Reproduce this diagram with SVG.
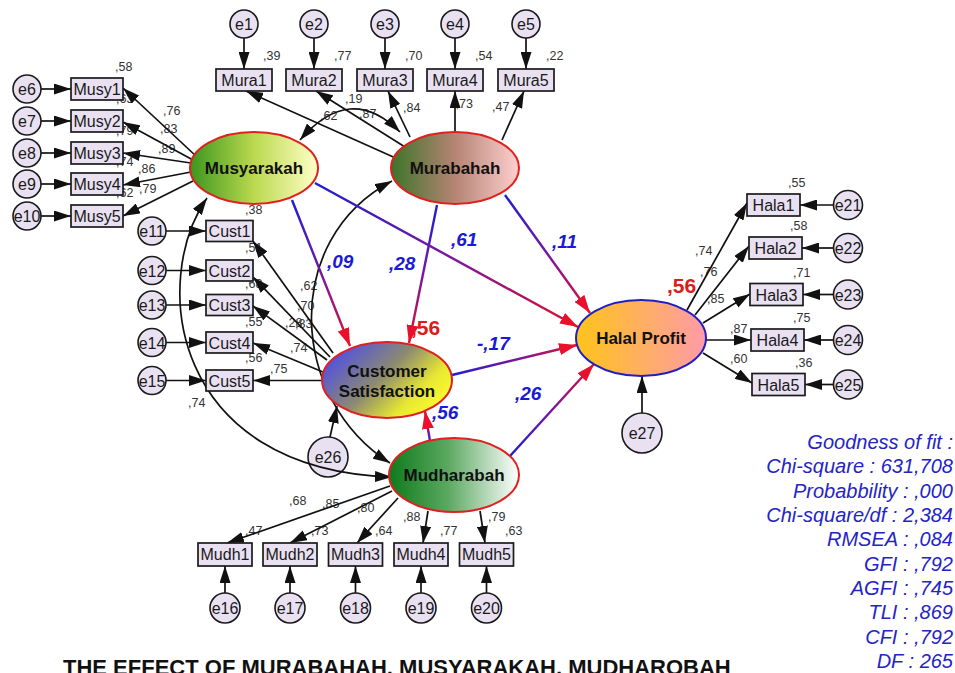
<svg xmlns="http://www.w3.org/2000/svg" width="955" height="673" viewBox="0 0 955 673">
<defs>
<style>
.box{fill:#e9e1f2;stroke:#1a1a1a;stroke-width:1.7}
.err{fill:#e9e1f2;stroke:#1a1a1a;stroke-width:1.6}
.lbl{font-family:"Liberation Sans",Arial,sans-serif;font-size:16px;fill:#1a1a1a;text-anchor:middle}
.num{font-family:"Liberation Sans",Arial,sans-serif;font-size:12.5px;fill:#333}
.lat{font-family:"Liberation Sans",Arial,sans-serif;font-weight:bold;font-size:17px;fill:#111;text-anchor:middle}
.ell{stroke:#e02020;stroke-width:2}
.ld{stroke:#111;stroke-width:1.7;fill:none;marker-end:url(#ah)}
.cv{stroke:#111;stroke-width:1.7;fill:none;marker-end:url(#ah);marker-start:url(#ah)}
.sp{stroke-width:2.4;fill:none;marker-end:url(#rh)}
.coef{font-family:"Liberation Sans",Arial,sans-serif;font-style:italic;font-weight:bold;font-size:19px;fill:#1a1ad6}
.red{font-family:"Liberation Sans",Arial,sans-serif;font-weight:bold;font-size:21px;fill:#e01a1a}
.gof{font-family:"Liberation Sans",Arial,sans-serif;font-style:italic;font-size:20px;fill:#2424c4;text-anchor:end}
.title{font-family:"Liberation Sans",Arial,sans-serif;font-weight:bold;font-size:22px;fill:#111}
</style>
<marker id="ah" markerUnits="userSpaceOnUse" markerWidth="17" markerHeight="11" refX="17" refY="5.5" orient="auto-start-reverse"><path d="M0,0 L17,5.5 L0,11 z" fill="#111"/></marker>
<marker id="rh" markerUnits="userSpaceOnUse" markerWidth="18" markerHeight="12" refX="18" refY="6" orient="auto"><path d="M0,0 L18,6 L0,12 z" fill="#e8102a"/></marker>
<linearGradient id="gMusy" x1="0" y1="0" x2="1" y2="0"><stop offset="0" stop-color="#3a961e"/><stop offset="0.5" stop-color="#bbd94e"/><stop offset="1" stop-color="#ffffc8"/></linearGradient>
<linearGradient id="gMura" x1="0" y1="0" x2="1" y2="0"><stop offset="0" stop-color="#3c7428"/><stop offset="0.5" stop-color="#b58474"/><stop offset="1" stop-color="#ffcfcf"/></linearGradient>
<linearGradient id="gCS" x1="0" y1="0.2" x2="1" y2="0.8"><stop offset="0" stop-color="#4a4af0"/><stop offset="0.45" stop-color="#8c8a70"/><stop offset="0.75" stop-color="#e8e832"/><stop offset="1" stop-color="#ffff30"/></linearGradient>
<linearGradient id="gMudh" x1="0" y1="0" x2="1" y2="0"><stop offset="0" stop-color="#0f7a1c"/><stop offset="0.45" stop-color="#5aa860"/><stop offset="1" stop-color="#ffffff"/></linearGradient>
<linearGradient id="gHal" x1="0" y1="0" x2="1" y2="0"><stop offset="0" stop-color="#ffc41a"/><stop offset="1" stop-color="#ff9aa8"/></linearGradient>
<linearGradient id="s1" gradientUnits="userSpaceOnUse" x1="292" y1="200" x2="350" y2="346"><stop offset="0" stop-color="#1e1ed2"/><stop offset="0.55" stop-color="#80169a"/><stop offset="1" stop-color="#e0102c"/></linearGradient>
<linearGradient id="s2" gradientUnits="userSpaceOnUse" x1="437" y1="205" x2="409" y2="343"><stop offset="0" stop-color="#1e1ed2"/><stop offset="0.55" stop-color="#80169a"/><stop offset="1" stop-color="#e0102c"/></linearGradient>
<linearGradient id="s3" gradientUnits="userSpaceOnUse" x1="315" y1="183" x2="578" y2="327"><stop offset="0" stop-color="#1e1ed2"/><stop offset="0.55" stop-color="#80169a"/><stop offset="1" stop-color="#e0102c"/></linearGradient>
<linearGradient id="s4" gradientUnits="userSpaceOnUse" x1="505" y1="195" x2="590" y2="313"><stop offset="0" stop-color="#1e1ed2"/><stop offset="0.55" stop-color="#80169a"/><stop offset="1" stop-color="#e0102c"/></linearGradient>
<linearGradient id="s5" gradientUnits="userSpaceOnUse" x1="452" y1="375" x2="577" y2="345"><stop offset="0" stop-color="#1e1ed2"/><stop offset="0.55" stop-color="#80169a"/><stop offset="1" stop-color="#e0102c"/></linearGradient>
<linearGradient id="s6" gradientUnits="userSpaceOnUse" x1="510" y1="456" x2="594" y2="364"><stop offset="0" stop-color="#1e1ed2"/><stop offset="0.55" stop-color="#80169a"/><stop offset="1" stop-color="#e0102c"/></linearGradient>
<linearGradient id="s7" gradientUnits="userSpaceOnUse" x1="430" y1="441" x2="425" y2="411"><stop offset="0" stop-color="#4a1ad2"/><stop offset="1" stop-color="#e0102c"/></linearGradient>
</defs>
<rect width="955" height="673" fill="#ffffff"/>

<g id="labels">
<g class="num">
<text x="115" y="71">,58</text><text x="116" y="103">,63</text><text x="116" y="135">,79</text><text x="116" y="166">,74</text><text x="116" y="197">,62</text>
<text x="163" y="115">,76</text><text x="160" y="133">,83</text><text x="158" y="153">,89</text><text x="138" y="173">,86</text><text x="139" y="193">,79</text>
<text x="263" y="60">,39</text><text x="334" y="60">,77</text><text x="405" y="60">,70</text><text x="475" y="60">,54</text><text x="546" y="60">,22</text>
<text x="320" y="120">,62</text><text x="359" y="118">,87</text><text x="403" y="112">,84</text><text x="455.5" y="108">,73</text><text x="492" y="111">,47</text><text x="345" y="103">,19</text>
<text x="245" y="214">,38</text><text x="245" y="252">,51</text><text x="245" y="288">,68</text><text x="245" y="326">,55</text><text x="245" y="362">,56</text>
<text x="300" y="290">,62</text><text x="297" y="310">,70</text><text x="285" y="327">,28</text><text x="295" y="328">,83</text><text x="290" y="352">,74</text><text x="270" y="373">,75</text>
<text x="188" y="407">,74</text>
<text x="289" y="505">,68</text><text x="322" y="508">,85</text><text x="357" y="512">,80</text><text x="403" y="521">,88</text><text x="488" y="521">,79</text>
<text x="245" y="535">,47</text><text x="311" y="535">,73</text><text x="375" y="535">,64</text><text x="440" y="535">,77</text><text x="505" y="535">,63</text>
<text x="788" y="187">,55</text><text x="790" y="230">,58</text><text x="793" y="277">,71</text><text x="793" y="322">,75</text><text x="795" y="367">,36</text>
<text x="695" y="255">,74</text><text x="700" y="276">,76</text><text x="707" y="303">,85</text><text x="730" y="333">,87</text><text x="730" y="363">,60</text>
</g>
<text class="red" x="667" y="293">,56</text>
<text class="red" x="411" y="335">,56</text>
<text class="coef" x="327" y="268">,09</text>
<text class="coef" x="389" y="270">,28</text>
<text class="coef" x="451" y="246">,61</text>
<text class="coef" x="552" y="248">,11</text>
<text class="coef" x="477" y="350">-,17</text>
<text class="coef" x="515" y="400">,26</text>
<text class="coef" x="432" y="419">,56</text>
</g>

<g id="e26"><circle class="err" cx="328" cy="457" r="20"/><text class="lbl" x="328" y="463">e26</text></g>

<g id="connectors">
<line class="ld" x1="41" y1="89" x2="71" y2="89"/>
<line class="ld" x1="41" y1="121" x2="71" y2="121"/>
<line class="ld" x1="41" y1="153" x2="71" y2="153"/>
<line class="ld" x1="41" y1="184" x2="71" y2="184"/>
<line class="ld" x1="41" y1="216" x2="71" y2="216"/>
<line class="ld" x1="244" y1="38" x2="244" y2="69"/>
<line class="ld" x1="314" y1="38" x2="314" y2="69"/>
<line class="ld" x1="385" y1="38" x2="385" y2="69"/>
<line class="ld" x1="455" y1="38" x2="455" y2="69"/>
<line class="ld" x1="526" y1="38" x2="526" y2="69"/>
<line class="ld" x1="166" y1="231" x2="206" y2="231"/>
<line class="ld" x1="166" y1="270.5" x2="206" y2="270.5"/>
<line class="ld" x1="166" y1="305" x2="206" y2="305"/>
<line class="ld" x1="166" y1="342.5" x2="206" y2="342.5"/>
<line class="ld" x1="166" y1="380.5" x2="206" y2="380.5"/>
<line class="ld" x1="225" y1="593" x2="225" y2="566"/>
<line class="ld" x1="290" y1="593" x2="290" y2="566"/>
<line class="ld" x1="355.5" y1="593" x2="355.5" y2="566"/>
<line class="ld" x1="421" y1="593" x2="421" y2="566"/>
<line class="ld" x1="486.5" y1="593" x2="486.5" y2="566"/>
<line class="ld" x1="833.5" y1="205" x2="800" y2="205"/>
<line class="ld" x1="833.5" y1="248" x2="802" y2="248"/>
<line class="ld" x1="833.5" y1="294.5" x2="803" y2="294.5"/>
<line class="ld" x1="833.5" y1="340" x2="804" y2="340"/>
<line class="ld" x1="833.5" y1="384.5" x2="805" y2="384.5"/>
<line class="ld" x1="330" y1="437" x2="337" y2="406"/>
<line class="ld" x1="642" y1="413" x2="642" y2="376"/>
<line class="ld" x1="197" y1="157" x2="123" y2="88"/>
<line class="ld" x1="193" y1="160" x2="123" y2="122"/>
<line class="ld" x1="191" y1="163" x2="123" y2="153"/>
<line class="ld" x1="191" y1="172" x2="123" y2="185"/>
<line class="ld" x1="193" y1="181" x2="123" y2="216"/>
<line class="ld" x1="400" y1="160" x2="246" y2="91"/>
<line class="ld" x1="405" y1="147" x2="316" y2="91"/>
<line class="ld" x1="410" y1="137" x2="388" y2="91"/>
<line class="ld" x1="455" y1="132" x2="455" y2="91"/>
<line class="ld" x1="502" y1="140" x2="524" y2="91"/>
<line class="ld" x1="333" y1="353" x2="253" y2="241"/>
<line class="ld" x1="330" y1="357" x2="253" y2="277"/>
<line class="ld" x1="327" y1="360" x2="253" y2="306"/>
<line class="ld" x1="323" y1="372" x2="253" y2="343"/>
<line class="ld" x1="323" y1="380.5" x2="253" y2="380.5"/>
<line class="ld" x1="390" y1="486" x2="227" y2="543"/>
<line class="ld" x1="392" y1="491" x2="290" y2="543"/>
<line class="ld" x1="398" y1="498" x2="357" y2="543"/>
<line class="ld" x1="428" y1="511" x2="423" y2="543"/>
<line class="ld" x1="480" y1="511" x2="485" y2="543"/>
<line class="ld" x1="687" y1="310" x2="747" y2="203"/>
<line class="ld" x1="695" y1="315" x2="749" y2="246"/>
<line class="ld" x1="703" y1="323" x2="750" y2="294"/>
<line class="ld" x1="706" y1="340" x2="751" y2="340"/>
<line class="ld" x1="703" y1="353" x2="752" y2="383"/>
<path class="cv" d="M300,140 Q350,82 400,132"/>
<path class="cv" d="M207,198 C150,280 170,470 392,477"/>
<path class="cv" d="M392,181 C280,240 290,400 390,463"/>
<line class="sp" stroke="url(#s1)" x1="292" y1="200" x2="350" y2="346"/>
<line class="sp" stroke="url(#s2)" x1="437" y1="205" x2="409" y2="343"/>
<line class="sp" stroke="url(#s3)" x1="315" y1="183" x2="578" y2="327"/>
<line class="sp" stroke="url(#s4)" x1="505" y1="195" x2="590" y2="313"/>
<line class="sp" stroke="url(#s5)" x1="452" y1="375" x2="577" y2="345"/>
<line class="sp" stroke="url(#s6)" x1="510" y1="456" x2="594" y2="364"/>
<line class="sp" stroke="url(#s7)" x1="430" y1="441" x2="425" y2="411"/>
</g>

<g id="e6"><circle class="err" cx="27" cy="89" r="14"/><text class="lbl" x="27" y="95">e6</text></g>
<g id="e7"><circle class="err" cx="27" cy="121" r="14"/><text class="lbl" x="27" y="127">e7</text></g>
<g id="e8"><circle class="err" cx="27" cy="153" r="14"/><text class="lbl" x="27" y="159">e8</text></g>
<g id="e9"><circle class="err" cx="27" cy="184" r="14"/><text class="lbl" x="27" y="190">e9</text></g>
<g id="e10"><circle class="err" cx="27" cy="216" r="14"/><text class="lbl" x="27" y="222">e10</text></g>
<g id="Musy1"><rect class="box" x="71" y="78" width="52" height="22"/><text class="lbl" x="97" y="95">Musy1</text></g>
<g id="Musy2"><rect class="box" x="71" y="110" width="52" height="22"/><text class="lbl" x="97" y="127">Musy2</text></g>
<g id="Musy3"><rect class="box" x="71" y="142" width="52" height="22"/><text class="lbl" x="97" y="159">Musy3</text></g>
<g id="Musy4"><rect class="box" x="71" y="173" width="52" height="22"/><text class="lbl" x="97" y="190">Musy4</text></g>
<g id="Musy5"><rect class="box" x="71" y="205" width="52" height="22"/><text class="lbl" x="97" y="222">Musy5</text></g>

<g id="e1"><circle class="err" cx="244" cy="24" r="14"/><text class="lbl" x="244" y="30">e1</text></g>
<g id="e2"><circle class="err" cx="314" cy="24" r="14"/><text class="lbl" x="314" y="30">e2</text></g>
<g id="e3"><circle class="err" cx="385" cy="24" r="14"/><text class="lbl" x="385" y="30">e3</text></g>
<g id="e4"><circle class="err" cx="455" cy="24" r="14"/><text class="lbl" x="455" y="30">e4</text></g>
<g id="e5"><circle class="err" cx="526" cy="24" r="14"/><text class="lbl" x="526" y="30">e5</text></g>
<g id="Mura1"><rect class="box" x="216" y="69" width="56" height="22"/><text class="lbl" x="244" y="86">Mura1</text></g>
<g id="Mura2"><rect class="box" x="286" y="69" width="56" height="22"/><text class="lbl" x="314" y="86">Mura2</text></g>
<g id="Mura3"><rect class="box" x="357" y="69" width="56" height="22"/><text class="lbl" x="385" y="86">Mura3</text></g>
<g id="Mura4"><rect class="box" x="427" y="69" width="56" height="22"/><text class="lbl" x="455" y="86">Mura4</text></g>
<g id="Mura5"><rect class="box" x="498" y="69" width="56" height="22"/><text class="lbl" x="526" y="86">Mura5</text></g>

<g id="e11"><circle class="err" cx="152" cy="231" r="14"/><text class="lbl" x="152" y="237">e11</text></g>
<g id="e12"><circle class="err" cx="152" cy="270.5" r="14"/><text class="lbl" x="152" y="276.5">e12</text></g>
<g id="e13"><circle class="err" cx="152" cy="305" r="14"/><text class="lbl" x="152" y="311">e13</text></g>
<g id="e14"><circle class="err" cx="152" cy="342.5" r="14"/><text class="lbl" x="152" y="348.5">e14</text></g>
<g id="e15"><circle class="err" cx="152" cy="380.5" r="14"/><text class="lbl" x="152" y="386.5">e15</text></g>
<g id="Cust1"><rect class="box" x="206" y="220.5" width="47" height="21"/><text class="lbl" x="229.5" y="237">Cust1</text></g>
<g id="Cust2"><rect class="box" x="206" y="260" width="47" height="21"/><text class="lbl" x="229.5" y="276.5">Cust2</text></g>
<g id="Cust3"><rect class="box" x="206" y="294.5" width="47" height="21"/><text class="lbl" x="229.5" y="311">Cust3</text></g>
<g id="Cust4"><rect class="box" x="206" y="332" width="47" height="21"/><text class="lbl" x="229.5" y="348.5">Cust4</text></g>
<g id="Cust5"><rect class="box" x="206" y="370" width="47" height="21"/><text class="lbl" x="229.5" y="386.5">Cust5</text></g>

<g id="e16"><circle class="err" cx="225" cy="608" r="15"/><text class="lbl" x="225" y="614">e16</text></g>
<g id="e17"><circle class="err" cx="290" cy="608" r="15"/><text class="lbl" x="290" y="614">e17</text></g>
<g id="e18"><circle class="err" cx="355.5" cy="608" r="15"/><text class="lbl" x="355.5" y="614">e18</text></g>
<g id="e19"><circle class="err" cx="421" cy="608" r="15"/><text class="lbl" x="421" y="614">e19</text></g>
<g id="e20"><circle class="err" cx="486.5" cy="608" r="15"/><text class="lbl" x="486.5" y="614">e20</text></g>
<g id="Mudh1"><rect class="box" x="198" y="543" width="54" height="23"/><text class="lbl" x="225" y="560">Mudh1</text></g>
<g id="Mudh2"><rect class="box" x="263" y="543" width="54" height="23"/><text class="lbl" x="290" y="560">Mudh2</text></g>
<g id="Mudh3"><rect class="box" x="328.5" y="543" width="54" height="23"/><text class="lbl" x="355.5" y="560">Mudh3</text></g>
<g id="Mudh4"><rect class="box" x="394" y="543" width="54" height="23"/><text class="lbl" x="421" y="560">Mudh4</text></g>
<g id="Mudh5"><rect class="box" x="459.5" y="543" width="54" height="23"/><text class="lbl" x="486.5" y="560">Mudh5</text></g>

<g id="e21"><circle class="err" cx="848" cy="205" r="14.5"/><text class="lbl" x="848" y="211">e21</text></g>
<g id="e22"><circle class="err" cx="848" cy="248" r="14.5"/><text class="lbl" x="848" y="254">e22</text></g>
<g id="e23"><circle class="err" cx="848" cy="294.5" r="14.5"/><text class="lbl" x="848" y="300.5">e23</text></g>
<g id="e24"><circle class="err" cx="848" cy="340" r="14.5"/><text class="lbl" x="848" y="346">e24</text></g>
<g id="e25"><circle class="err" cx="848" cy="384.5" r="14.5"/><text class="lbl" x="848" y="390.5">e25</text></g>
<g id="Hala1"><rect class="box" x="747" y="194" width="53" height="22"/><text class="lbl" x="773.5" y="211">Hala1</text></g>
<g id="Hala2"><rect class="box" x="749" y="237" width="53" height="22"/><text class="lbl" x="775.5" y="254">Hala2</text></g>
<g id="Hala3"><rect class="box" x="750" y="283.5" width="53" height="22"/><text class="lbl" x="776.5" y="300.5">Hala3</text></g>
<g id="Hala4"><rect class="box" x="751" y="329" width="53" height="22"/><text class="lbl" x="777.5" y="346">Hala4</text></g>
<g id="Hala5"><rect class="box" x="752" y="373.5" width="53" height="22"/><text class="lbl" x="778.5" y="390.5">Hala5</text></g>
<g id="e27"><circle class="err" cx="642" cy="433" r="20"/><text class="lbl" x="642" y="439">e27</text></g>

<g id="Musyarakah"><ellipse class="ell" cx="254" cy="168" rx="64" ry="36" fill="url(#gMusy)"/><text class="lat" x="254" y="174">Musyarakah</text></g>
<g id="Murabahah"><ellipse class="ell" cx="455" cy="168" rx="64" ry="36" fill="url(#gMura)"/><text class="lat" x="455" y="174">Murabahah</text></g>
<g id="CustomerSatisfaction"><ellipse class="ell" cx="387" cy="380" rx="65" ry="38" fill="url(#gCS)"/><text class="lat" x="387" y="377">Customer</text><text class="lat" x="387" y="397">Satisfaction</text></g>
<g id="Mudharabah"><ellipse class="ell" cx="454" cy="475" rx="65" ry="37" fill="url(#gMudh)"/><text class="lat" x="454" y="481">Mudharabah</text></g>
<g id="HalalProfit"><ellipse cx="641" cy="338" rx="65" ry="38" fill="url(#gHal)" stroke="#2020c0" stroke-width="2"/><text class="lat" x="641" y="344">Halal Profit</text></g>

<g id="fit">
<text class="gof" x="953" y="449">Goodness of fit :</text>
<text class="gof" x="953" y="473">Chi-square : 631,708</text>
<text class="gof" x="953" y="498">Probabbility : ,000</text>
<text class="gof" x="953" y="522">Chi-square/df : 2,384</text>
<text class="gof" x="953" y="546">RMSEA : ,084</text>
<text class="gof" x="953" y="571">GFI : ,792</text>
<text class="gof" x="953" y="595">AGFI : ,745</text>
<text class="gof" x="953" y="619">TLI : ,869</text>
<text class="gof" x="953" y="644">CFI : ,792</text>
<text class="gof" x="953" y="668">DF : 265</text>
</g>
<text class="title" x="63" y="675">THE EFFECT OF MURABAHAH, MUSYARAKAH, MUDHAROBAH</text>
</svg>
